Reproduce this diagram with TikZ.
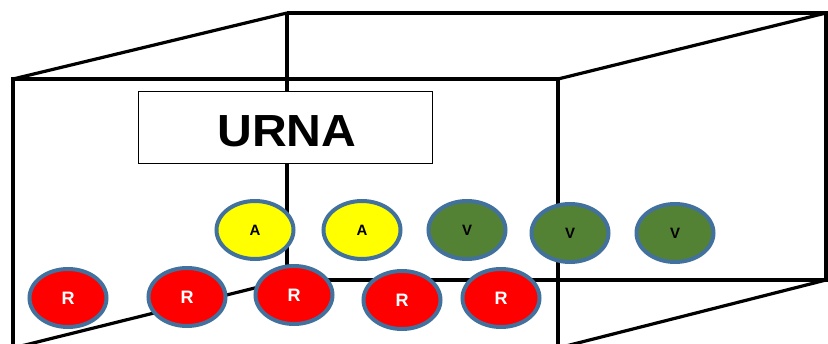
\documentclass[tikz,border=0pt]{standalone}
\usepackage{fontspec}
\setmainfont{Liberation Sans}
\usetikzlibrary{shapes.geometric}
\definecolor{balledge}{HTML}{41719C}
\definecolor{ballgreen}{HTML}{548235}
\definecolor{ballyellow}{HTML}{FFFF00}
\definecolor{ballred}{HTML}{FF0000}
\tikzset{
  edge/.style={line width=4pt, black, line cap=rect},
  backedge/.style={line width=3.2pt, black},
  ball/.style={ellipse, draw=balledge, line width=4pt, minimum width=77pt, minimum height=58pt, inner sep=0pt, font=\bfseries},
  redball/.style={ball, fill=ballred, text=white, font=\bfseries\fontsize{18}{18}\selectfont},
  yellowball/.style={ball, fill=ballyellow, text=black, font=\bfseries\fontsize{15}{15}\selectfont},
  greenball/.style={ball, fill=ballgreen, text=black, font=\bfseries\fontsize{15}{15}\selectfont},
  titlebox/.style={draw, line width=1.8pt, fill=white, minimum width=294pt, minimum height=72pt, inner sep=0pt}
}
\begin{document}
\begin{tikzpicture}[x=1pt,y=-1pt]
\useasboundingbox (0,0) rectangle (828,343);
\clip (0,0) rectangle (828,343);
% corners
\coordinate (ftl) at (13,79);
\coordinate (ftr) at (558,79);
\coordinate (fbl) at (13,348);
\coordinate (fbr) at (558,348);
\coordinate (btl) at (287,13);
\coordinate (btr) at (826,13);
\coordinate (bbl) at (287,280);
\coordinate (bbr) at (826,280);
% back edges
\draw[backedge] (btl) -- (btr) -- (bbr) -- (bbl) -- (btl);
\draw[backedge] (ftl) -- (btl);
\draw[backedge] (ftr) -- (btr);
\draw[backedge] (fbl) -- (bbl);
\draw[backedge] (fbr) -- (bbr);
% front edges
\draw[edge] (fbl) -- (ftl) -- (ftr) -- (fbr);
% title
\node[titlebox] (title) at (285.5,127.5) {};
\node[font=\bfseries\fontsize{45}{45}\selectfont, xscale=1.07, inner sep=0pt] (titletext) at (287,131) {URNA};
% balls
\node[yellowball] (a1) at (255,230) {A};
\node[yellowball] (a2) at (362,230) {A};
\node[greenball] (v1) at (467,230) {V};
\node[greenball] (v2) at (570,233) {V};
\node[greenball] (v3) at (675,233) {V};
\node[redball] (r1) at (68,298) {R};
\node[redball] (r2) at (187,297) {R};
\node[redball] (r3) at (294,295) {R};
\node[redball] (r4) at (402,300) {R};
\node[redball] (r5) at (501,298) {R};
\end{tikzpicture}
\end{document}
